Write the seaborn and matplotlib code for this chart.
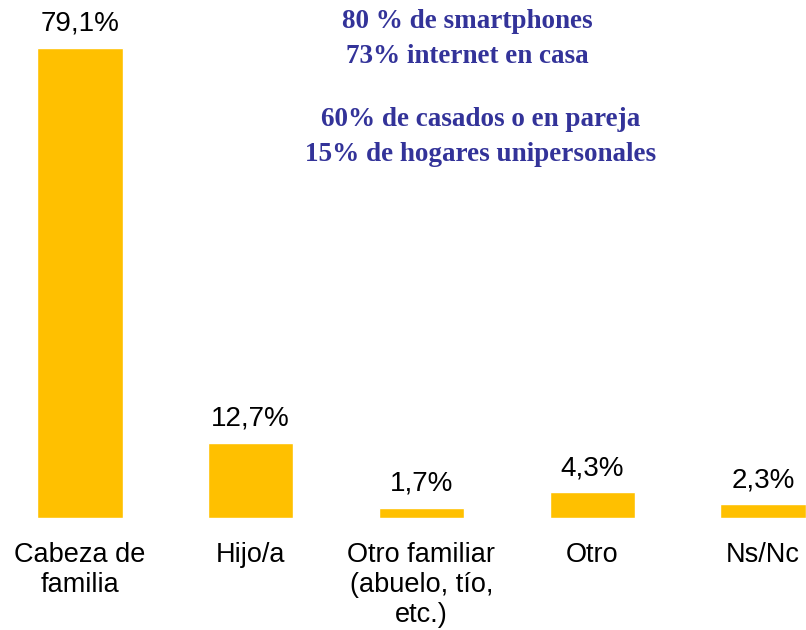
import numpy as np
import pandas as pd
import seaborn as sns
import matplotlib.pyplot as plt

categorias = ['Cabeza de\nfamilia', 'Hijo/a', 'Otro familiar\n(abuelo, tío,\netc.)', 'Otro', 'Ns/Nc']
porcentajes = [79.1, 12.7, 1.7, 4.3, 2.3]
etiquetas = ['79,1%', '12,7%', '1,7%', '4,3%', '2,3%']
notas_1 = '80 % de smartphones\n73% internet en casa'
notas_2 = '60% de casados o en pareja\n15% de hogares unipersonales'

sns.set_style('white')
plt.rcParams['font.family'] = ['Liberation Sans', 'DejaVu Sans']

df = pd.DataFrame({'categoria': categorias, 'pct': porcentajes})

fig = plt.figure(figsize=(8.06, 6.3), dpi=100)
ax = fig.add_axes([0, 0.1778, 1, 0.8206])

sns.barplot(data=df, x='categoria', y='pct', color='#FFC000', saturation=1,
            width=0.5, ax=ax)

ax.set_xlim(-0.4685, 4.252)
ax.set_ylim(0, 87)
ax.bar_label(ax.containers[0], labels=etiquetas, padding=8, fontsize=20,
             color='black', clip_on=False)

ax.set_xlabel('')
ax.set_ylabel('')
ax.set_yticks([])
ax.tick_params(axis='x', length=0, pad=17, labelsize=19.5, colors='black')
for lbl in ax.get_xticklabels():
    lbl.set_linespacing(1.2)
sns.despine(ax=ax, left=True, bottom=True)

# recuadro de notas
fig.text(467 / 806, 1 - 39 / 630, notas_1, ha='center', va='center',
         fontsize=19.5, fontweight='bold', color='#333399',
         family=['Liberation Serif', 'DejaVu Serif'], linespacing=1.55)
fig.text(481 / 806, 1 - 137 / 630, notas_2, ha='center', va='center',
         fontsize=19.5, fontweight='bold', color='#333399',
         family=['Liberation Serif', 'DejaVu Serif'], linespacing=1.55)

fig.savefig('out.png', dpi=100)
